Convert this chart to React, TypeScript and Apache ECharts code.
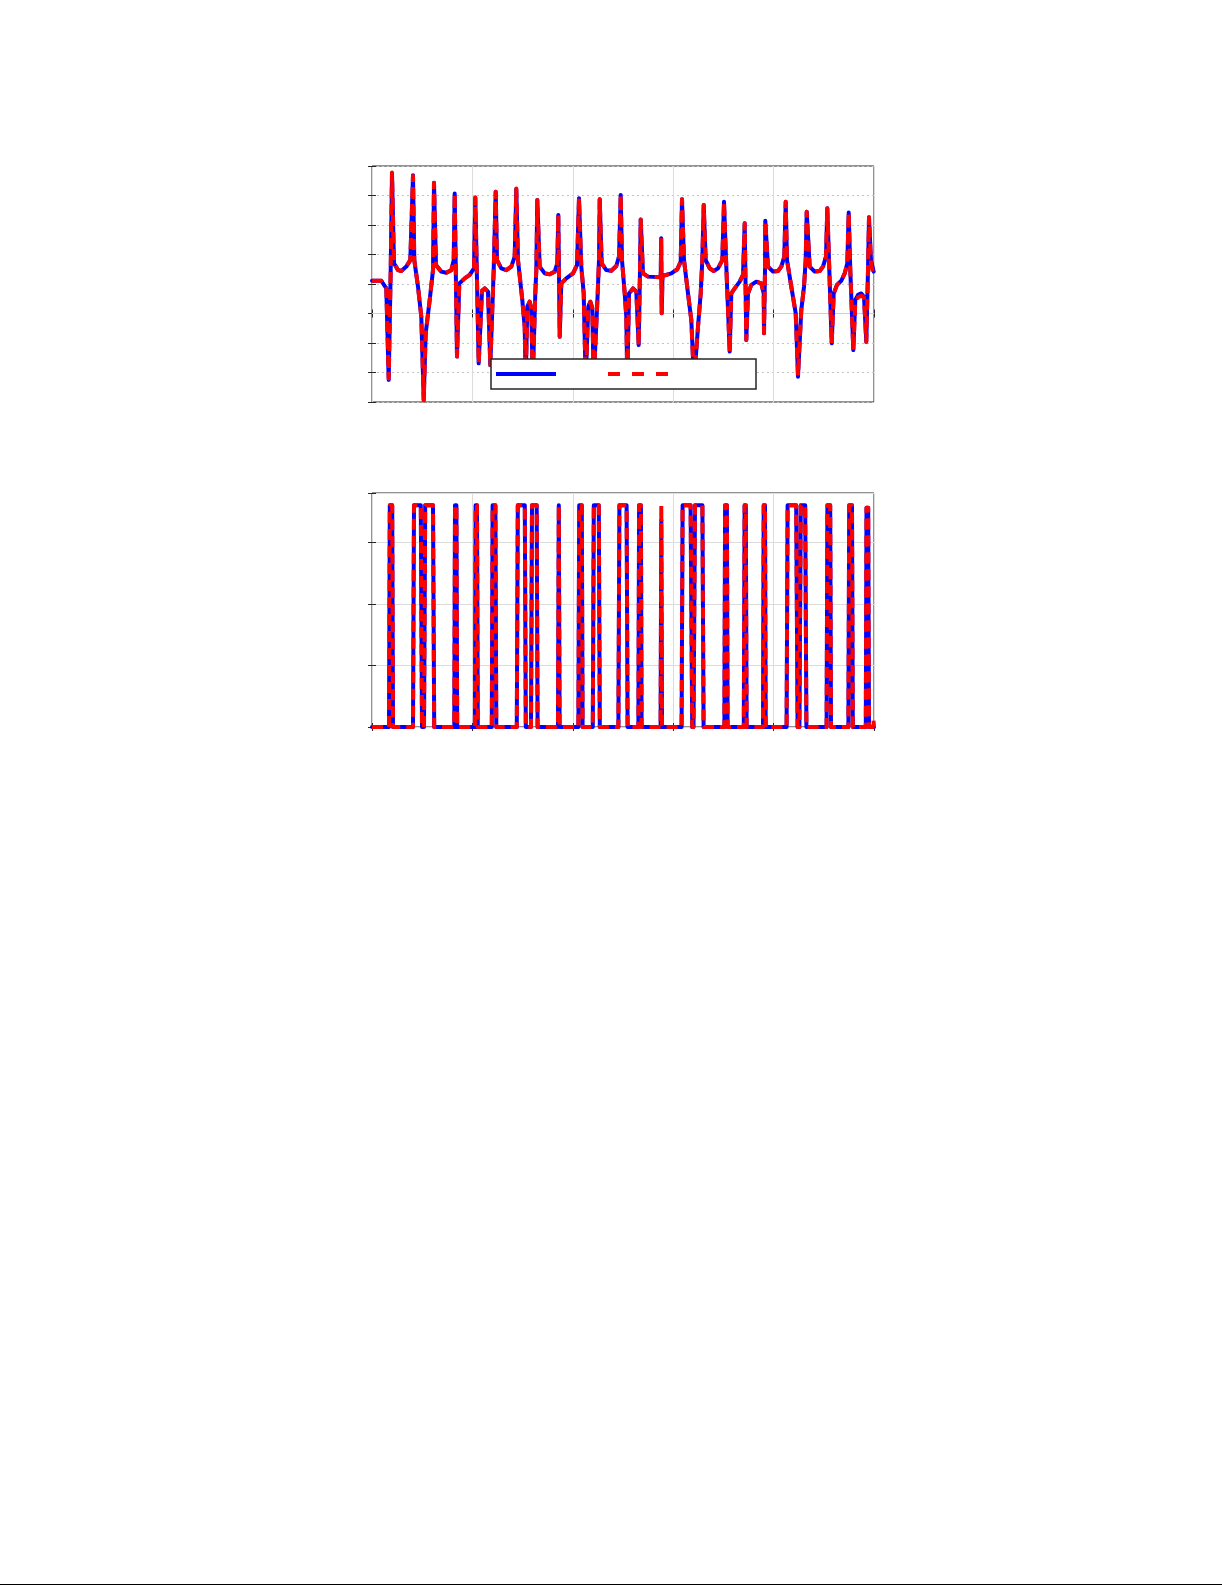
import React, { useEffect, useRef } from "react";
import * as echarts from "echarts";

// Top panel: sample index vs. signal (blue = reference, red = estimate)
const topBlue: [number, number][] = [
  [0, 1.11], [9.3, 1.11], [14.3, 0.85], [16.7, -2.25], [18.7, 1.47], [20, 4.75], [22, 1.7], [26, 1.47], [29.3, 1.44],
  [34.3, 1.59], [38.3, 1.81], [41, 4.69], [42.3, 1.81], [46, 0.91], [49.3, -0.11], [51.7, -2.93], [53.7, -0.67],
  [57.7, 0.46], [61, 1.47], [62, 4.43], [64, 1.64], [69.3, 1.42], [74.3, 1.38], [79.3, 1.47], [81.7, 1.81],
  [82.7, 4.07], [85, -1.46], [87.3, 1.02], [92.7, 1.19], [97.7, 1.31], [102, 1.53], [103.3, 3.93], [106.7, -1.69],
  [110, 0.77], [112.7, 0.85], [116, 0.74], [118.3, -1.75], [121.7, 1.47], [123.7, 4.13], [125, 1.81], [129.3, 1.53],
  [134.3, 1.47], [139.3, 1.59], [142.7, 1.93], [144.3, 4.21], [146, 1.81], [150.3, 0.46], [152.7, -0.45],
  [153.7, -2.3], [155.3, 0.23], [157.7, 0.4], [159.3, 0.18], [160.7, -2.3], [163.3, 0.68], [164.3, 1.47],
  [165.3, 3.85], [167.7, 1.59], [172.7, 1.36], [177.7, 1.33], [182.7, 1.42], [185.3, 1.7], [186.3, 3.34],
  [187.7, -0.79], [189.3, 1.02], [194.3, 1.19], [201, 1.36], [205, 1.64], [207, 3.91], [209.3, 1.59], [211.7, 0.68],
  [213.7, -2.3], [216.3, 0.23], [218.3, 0.4], [220.3, 0.18], [221.7, -2.3], [225.7, 0.68], [227, 1.81],
  [227.7, 3.87], [229.7, 1.7], [234.3, 1.47], [239.3, 1.45], [244.3, 1.61], [247, 1.93], [248.7, 4.02], [250, 1.81],
  [252.7, 0.68], [254.3, -0.11], [255.3, -2.3], [257, 0.68], [261, 0.85], [264.3, 0.74], [266.7, -1.07],
  [268, 1.47], [268.7, 3.19], [271, 1.36], [276, 1.25], [288.7, 1.23], [289.2, 2.55], [289.7, 0.01], [290.5, 1.27],
  [299.3, 1.36], [305.3, 1.5], [308.7, 1.76], [310, 3.87], [312, 1.81], [316, 0.68], [319.3, -0.22], [322, -2.3],
  [326, -0.45], [328.7, 0.68], [330.3, 1.81], [331.7, 3.68], [333.7, 1.81], [337.7, 1.53], [341.7, 1.44],
  [346, 1.53], [350.3, 1.81], [352, 3.79], [354.3, 1.59], [357.7, -1.29], [359.3, 0.68], [362.7, 0.85],
  [367.7, 1.08], [371, 1.31], [372.7, 3.06], [374.3, -0.9], [376, 0.68], [379.3, 0.97], [384.3, 1.08],
  [389.3, 1.02], [391.7, 0.68], [392, -0.67], [393, 1.47], [393.3, 3.14], [396, 1.59], [401, 1.42], [406, 1.44],
  [409.3, 1.59], [412.3, 1.93], [413.7, 3.79], [415, 1.81], [419.3, 0.91], [423.7, 0.01], [426, -2.14],
  [429.3, 0.12], [432, 0.91], [433.7, 1.81], [434.7, 3.45], [437.7, 1.59], [442.7, 1.42], [447.7, 1.44],
  [451, 1.59], [454, 1.93], [455.3, 3.57], [457, 1.81], [459.7, -1.01], [461.7, 0.68], [465, 0.97], [469.3, 1.11],
  [472.7, 1.36], [475.3, 1.7], [476.7, 3.42], [478.3, 1.47], [481.3, -1.24], [483.3, 0.46], [486, 0.63],
  [489.3, 0.68], [492, 0.57], [494.3, -0.96], [496, 1.47], [497, 3.26], [499, 1.81], [501.7, 1.42],
];

const topRed: [number, number][] = [
  [0, 1.11], [9.3, 1.11], [14.3, 0.87], [16.7, -2.2], [18.7, 1.47], [20, 4.78], [22, 1.72], [26, 1.47], [29.3, 1.44],
  [34.3, 1.59], [38.3, 1.81], [41, 4.66], [42.3, 1.81], [46, 0.91], [49.3, -0.11], [51.7, -2.95], [53.7, -0.67],
  [57.7, 0.46], [61, 1.47], [62, 4.43], [64, 1.64], [69.3, 1.42], [74.3, 1.38], [79.3, 1.47], [81.7, 1.81],
  [82.7, 4.07], [85, -1.46], [87.3, 1.02], [92.7, 1.19], [97.7, 1.31], [102, 1.53], [103.3, 3.93], [106.7, -1.69],
  [110, 0.77], [112.7, 0.85], [116, 0.74], [118.3, -1.75], [121.7, 1.47], [123.7, 4.13], [125, 1.81], [129.3, 1.53],
  [134.3, 1.47], [139.3, 1.59], [142.7, 1.93], [144.3, 4.24], [146, 1.81], [150.3, 0.46], [152.7, -0.45],
  [153.7, -2.3], [155.3, 0.23], [157.7, 0.4], [159.3, 0.18], [160.7, -2.3], [163.3, 0.68], [164.3, 1.47],
  [165.3, 3.85], [167.7, 1.59], [172.7, 1.36], [177.7, 1.33], [182.7, 1.42], [185.3, 1.7], [186.3, 3.34],
  [187.7, -0.79], [189.3, 1.02], [194.3, 1.19], [201, 1.36], [205, 1.64], [207, 3.91], [209.3, 1.59], [211.7, 0.68],
  [213.7, -2.3], [216.3, 0.23], [218.3, 0.4], [220.3, 0.18], [221.7, -2.3], [225.7, 0.68], [227, 1.81],
  [227.7, 3.87], [229.7, 1.7], [234.3, 1.47], [239.3, 1.45], [244.3, 1.61], [247, 1.93], [248.7, 4.02], [250, 1.81],
  [252.7, 0.68], [254.3, -0.11], [255.3, -2.3], [257, 0.68], [261, 0.85], [264.3, 0.74], [266.7, -1.07],
  [268, 1.47], [268.7, 3.19], [271, 1.36], [276, 1.25], [288.7, 1.23], [289.2, 2.55], [289.7, 0.01], [290.5, 1.27],
  [299.3, 1.36], [305.3, 1.5], [308.7, 1.76], [310, 3.87], [312, 1.81], [316, 0.68], [319.3, -0.22], [322, -2.3],
  [326, -0.45], [328.7, 0.68], [330.3, 1.81], [331.7, 3.68], [333.7, 1.81], [337.7, 1.53], [341.7, 1.44],
  [346, 1.53], [350.3, 1.81], [352, 3.79], [354.3, 1.59], [357.7, -1.29], [359.3, 0.68], [362.7, 0.85],
  [367.7, 1.08], [371, 1.31], [372.7, 3.06], [374.3, -0.9], [376, 0.68], [379.3, 0.97], [384.3, 1.08],
  [389.3, 1.02], [391.7, 0.68], [392, -0.67], [393, 1.47], [393.3, 3.14], [396, 1.59], [401, 1.42], [406, 1.44],
  [409.3, 1.59], [412.3, 1.93], [413.7, 3.79], [415, 1.81], [419.3, 0.91], [423.7, 0.01], [426, -2.1],
  [429.3, 0.12], [432, 0.91], [433.7, 1.81], [434.7, 3.45], [437.7, 1.59], [442.7, 1.42], [447.7, 1.44],
  [451, 1.59], [454, 1.93], [455.3, 3.57], [457, 1.81], [459.7, -1.01], [461.7, 0.68], [465, 0.97], [469.3, 1.11],
  [472.7, 1.36], [475.3, 1.7], [476.7, 3.42], [478.3, 1.47], [481.3, -1.24], [483.3, 0.36], [486, 0.55],
  [489.3, 0.6], [492, 0.55], [494.3, -0.96], [496, 1.47], [497, 3.26], [499, 1.7], [501.7, 1.25],
];

// Bottom panel: switching signal (0 … 0.9)
const bottomBlue: [number, number][] = [
  [0, 0], [17, 0], [17.8, 0.9], [20.2, 0.9], [21, 0],
  [41, 0], [42, 0.9], [48.8, 0.9], [50, 0], [52, 0], [53.2, 0.9], [61, 0.9], [62.2, 0],
  [82.3, 0], [83, 0.9], [84.4, 0.9], [85.2, 0],
  [102.9, 0], [103.6, 0.9], [105, 0.9], [105.8, 0],
  [119.8, 0], [120.6, 0.9], [123.4, 0.9], [124.3, 0],
  [144.8, 0], [145.8, 0.9], [152.8, 0.9], [153.8, 0],
  [159, 0], [160, 0.9], [164.7, 0.9], [165.6, 0],
  [186, 0], [186.8, 0.9], [187.6, 0],
  [206.4, 0], [207.2, 0.9], [209.8, 0.9], [210.6, 0],
  [220.8, 0], [221.8, 0.9], [226.8, 0.9], [227.8, 0],
  [246.4, 0], [247.4, 0.9], [254.6, 0.9], [255.6, 0],
  [266.4, 0], [267.1, 0.9], [268.9, 0.9], [269.6, 0],
  [288.6, 0], [289.3, 0.84], [290, 0],
  [309.6, 0], [310.6, 0.9], [318.6, 0.9], [320.2, 0], [321.5, 0], [323, 0.9], [330.4, 0.9], [331.6, 0],
  [352.4, 0], [353.1, 0.9], [354.9, 0.9], [355.6, 0],
  [371.8, 0], [372.6, 0.9], [373.8, 0.9], [374.6, 0],
  [391, 0], [391.7, 0.9], [393, 0.9], [393.7, 0],
  [414.6, 0], [415.6, 0.9], [424.2, 0.9], [425.6, 0], [427.4, 0], [428.8, 0.9], [433.2, 0.9], [434.4, 0],
  [454.6, 0], [455.4, 0.9], [458.2, 0.9], [459, 0],
  [476.4, 0], [477.2, 0.9], [480, 0.9], [480.8, 0],
  [493.8, 0], [494.5, 0.89], [496.2, 0.89], [497, 0],
  [502, 0],
];

const bottomRed: [number, number][] = [
  [0, 0], [17, 0], [17.8, 0.9], [20.2, 0.9], [21, 0],
  [41, 0], [42, 0.9], [48.8, 0.9], [50, 0], [52, 0], [53.2, 0.9], [61, 0.9], [62.2, 0],
  [82.3, 0], [83, 0.9], [84.4, 0.9], [85.2, 0],
  [102.9, 0], [103.6, 0.9], [105, 0.9], [105.8, 0],
  [119.8, 0], [120.6, 0.9], [123.4, 0.9], [124.3, 0],
  [144.8, 0], [145.8, 0.9], [152.8, 0.9], [153.8, 0],
  [159, 0], [160, 0.9], [164.7, 0.9], [165.6, 0],
  [186, 0], [186.8, 0.9], [187.6, 0],
  [206.4, 0], [207.2, 0.9], [209.8, 0.9], [210.6, 0],
  [220.8, 0], [221.8, 0.9], [226.8, 0.9], [227.8, 0],
  [246.4, 0], [247.4, 0.9], [254.6, 0.9], [255.6, 0],
  [266.4, 0], [267.1, 0.9], [268.9, 0.9], [269.6, 0],
  [288.6, 0], [289.3, 0.9], [290, 0],
  [309.6, 0], [310.6, 0.9], [318.6, 0.9], [320.2, 0], [321.5, 0], [323, 0.9], [330.4, 0.9], [331.6, 0],
  [352.4, 0], [353.1, 0.9], [354.9, 0.9], [355.6, 0],
  [371.8, 0], [372.6, 0.9], [373.8, 0.9], [374.6, 0],
  [391, 0], [391.7, 0.9], [393, 0.9], [393.7, 0],
  [414.6, 0], [415.6, 0.9], [424.2, 0.9], [425.6, 0], [427.4, 0], [428.8, 0.9], [433.2, 0.9], [434.4, 0],
  [454.6, 0], [455.4, 0.9], [458.2, 0.9], [459, 0],
  [476.4, 0], [477.2, 0.9], [480, 0.9], [480.8, 0],
  [493.8, 0], [494.5, 0.89], [496.2, 0.89], [497, 0],
  [500.8, 0], [501.4, 0.03], [502, 0],
];

const zeroLine: [number, number][] = [[0, 0], [502, 0]];

const FRAME = "#262626";

function xAxes(gridIndex: number) {
  const base = {
    gridIndex,
    type: "value",
    min: 0,
    max: 502,
    interval: 100.4,
    axisLine: { show: false },
    axisLabel: { show: false },
    axisTick: { show: true, inside: true, length: 4, lineStyle: { color: FRAME, width: 1 } },
  };
  return [
    { ...base, position: "bottom", splitLine: { show: true, lineStyle: { color: "#dcdcdc", width: 1 } } },
    { ...base, position: "top", splitLine: { show: false } },
  ];
}

function yAxes(gridIndex: number, min: number, max: number, interval: number, dashed: boolean) {
  const base = {
    gridIndex,
    type: "value",
    min,
    max,
    interval,
    axisLine: { show: false },
    axisLabel: { show: false },
    axisTick: { show: true, inside: true, length: 4, lineStyle: { color: FRAME, width: 1 } },
  };
  return [
    {
      ...base,
      position: "left",
      splitLine: {
        show: true,
        lineStyle: dashed
          ? { color: "#c4c4c4", width: 1, type: [2, 3] }
          : { color: "#dcdcdc", width: 1, type: "solid" },
      },
    },
    { ...base, position: "right", splitLine: { show: false } },
  ];
}

export default function App() {
  const ref = useRef<HTMLDivElement>(null);

  useEffect(() => {
    const chart = echarts.init(ref.current!, null, { renderer: "svg" });
    const blueStyle = { color: "#0000ff", width: 4, join: "round", cap: "round" };
    const redStyle = { color: "#ff0000", width: 4, type: [11, 6], join: "round" };
    chart.setOption({
      animation: false,
      backgroundColor: "#ffffff",
      grid: [
        { left: 372, top: 166, width: 502, height: 236, show: true, borderColor: FRAME, borderWidth: 1, backgroundColor: "transparent" },
        { left: 372, top: 493, width: 502, height: 234, show: true, borderColor: FRAME, borderWidth: 1, backgroundColor: "transparent" },
      ],
      xAxis: [...xAxes(0), ...xAxes(1)],
      yAxis: [...yAxes(0, -3, 5, 1, true), ...yAxes(1, 0, 0.95, 0.25, false)],
      series: [
        {
          type: "line", xAxisIndex: 0, yAxisIndex: 0, data: zeroLine, symbol: "none", silent: true, z: 1,
          lineStyle: { color: "#cfcfcf", width: 1 },
        },
        { name: "blue", type: "line", xAxisIndex: 0, yAxisIndex: 0, data: topBlue, symbol: "none", z: 2, lineStyle: blueStyle },
        { name: "red", type: "line", xAxisIndex: 0, yAxisIndex: 0, data: topRed, symbol: "none", z: 3, lineStyle: redStyle },
        { name: "blue2", type: "line", xAxisIndex: 2, yAxisIndex: 2, data: bottomBlue, symbol: "none", z: 2, lineStyle: blueStyle },
        { name: "red2", type: "line", xAxisIndex: 2, yAxisIndex: 2, data: bottomRed, symbol: "none", z: 3, lineStyle: redStyle },
      ],
      graphic: [
        {
          type: "rect", z: 100, shape: { x: 491, y: 359, width: 265, height: 30 },
          style: { fill: "#ffffff", stroke: FRAME, lineWidth: 1.5 },
        },
        {
          type: "line", z: 101, shape: { x1: 496, y1: 374, x2: 556, y2: 374 },
          style: { stroke: "#0000ff", lineWidth: 4 },
        },
        {
          type: "line", z: 101, shape: { x1: 608, y1: 374, x2: 668, y2: 374 },
          style: { stroke: "#ff0000", lineWidth: 4, lineDash: [12, 12] },
        },
        {
          type: "line", z: 101, shape: { x1: 0, y1: 1584.5, x2: 1222, y2: 1584.5 },
          style: { stroke: "#000000", lineWidth: 1 },
        },
      ],
    });
    return () => chart.dispose();
  }, []);

  return (
    <div
      ref={ref}
      style={{ position: "absolute", left: 0, top: 0, width: 1225, height: 1585 }}
    />
  );
}
